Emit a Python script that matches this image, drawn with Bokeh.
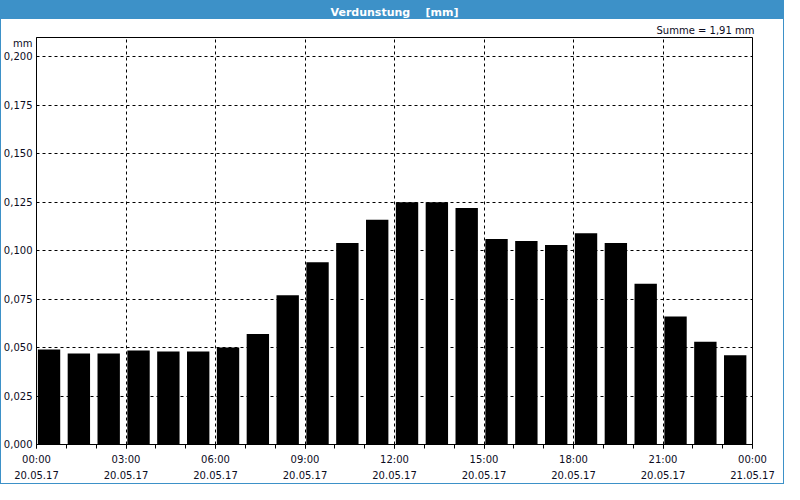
from bokeh.plotting import figure
from bokeh.models import Range1d, FixedTicker, Title, ColumnDataSource
from bokeh.embed import file_html
from bokeh.resources import INLINE

# ---- data ----
hours = list(range(24))
evaporation = [0.049, 0.047, 0.047, 0.0485, 0.048, 0.048, 0.050, 0.057,
               0.077, 0.094, 0.104, 0.116, 0.125, 0.125, 0.122, 0.106,
               0.105, 0.103, 0.109, 0.104, 0.083, 0.066, 0.053, 0.046]
x_ticks = [0, 3, 6, 9, 12, 15, 18, 21, 24]
x_tick_labels = ["00:00\n20.05.17", "03:00\n20.05.17", "06:00\n20.05.17",
                 "09:00\n20.05.17", "12:00\n20.05.17", "15:00\n20.05.17",
                 "18:00\n20.05.17", "21:00\n20.05.17", "00:00\n21.05.17"]
y_ticks = [0.0, 0.025, 0.05, 0.075, 0.1, 0.125, 0.15, 0.175, 0.2]
y_tick_labels = ["0,000", "0,025", "0,050", "0,075", "0,100", "0,125",
                 "0,150", "0,175", "0,200"]
unit_text = "mm"
unit_pos = 0.207
title_text = "Verdunstung\u00a0\u00a0\u00a0\u00a0[mm]"
sum_text = "Summe = 1,91 mm"

FONT = "DejaVu Sans"
BLUE = "#3d91c8"
TXT = "#0c0c1e"

src = ColumnDataSource(dict(x=[h + 0.42 for h in hours], top=evaporation))

p = figure(width=784, height=484, output_backend="svg", toolbar_location=None,
           title=None,
           x_range=Range1d(0, 24), y_range=Range1d(0, 0.21),
           min_border_left=32, min_border_right=32, min_border_top=0,
           min_border_bottom=30)

p.add_layout(Title(text=sum_text, align="right", text_font=FONT,
                   text_font_size="10px", text_font_style="normal",
                   text_color=TXT, standoff=3, offset=-2), "above")
p.add_layout(Title(text=title_text, align="center", text_font=FONT,
                   text_font_size="11px", text_font_style="bold",
                   text_color="white", standoff=6), "above")

p.vbar(x="x", top="top", width=0.75, bottom=0, source=src,
       fill_color="black", line_color=None)

p.background_fill_color = "white"
p.border_fill_color = None
p.outline_line_color = "black"
p.outline_line_width = 1
p.styles = {
    "background": "linear-gradient(to bottom, %s 0px, %s 19px, white 19px, white 100%%)" % (BLUE, BLUE),
    "outline": "1px solid " + BLUE,
    "outline-offset": "-1px",
}

# x axis
xa = p.xaxis[0]
xa.ticker = FixedTicker(ticks=x_ticks, minor_ticks=hours + [24])
xa.major_label_overrides = {t: l for t, l in zip(x_ticks, x_tick_labels)}
xa.major_tick_out = 4
xa.major_tick_in = 0
xa.minor_tick_out = 4
xa.minor_tick_in = 0
xa.major_tick_line_color = "black"
xa.minor_tick_line_color = "black"
xa.axis_line_color = "black"
xa.major_label_text_font = FONT
xa.major_label_text_font_size = "10px"
xa.major_label_text_color = TXT
xa.major_label_text_line_height = 1.5
xa.major_label_standoff = 5

# y axis (unit label placed as an extra tick label above 0,200)
ya = p.yaxis[0]
ya.ticker = FixedTicker(ticks=y_ticks + [unit_pos])
overrides = {t: l for t, l in zip(y_ticks, y_tick_labels)}
overrides[unit_pos] = unit_text
ya.major_label_overrides = overrides
ya.major_tick_out = 0
ya.major_tick_in = 0
ya.minor_tick_line_color = None
ya.axis_line_color = "black"
ya.major_label_text_font = FONT
ya.major_label_text_font_size = "10px"
ya.major_label_text_color = TXT
ya.major_label_standoff = 4

# grids
p.xgrid.ticker = FixedTicker(ticks=x_ticks[1:-1])
p.ygrid.ticker = FixedTicker(ticks=y_ticks[1:])
for g in (p.xgrid[0], p.ygrid[0]):
    g.grid_line_color = "black"
    g.grid_line_dash = "3 3"
    g.grid_line_width = 1

open("out.html", "w").write(file_html(p, INLINE))
